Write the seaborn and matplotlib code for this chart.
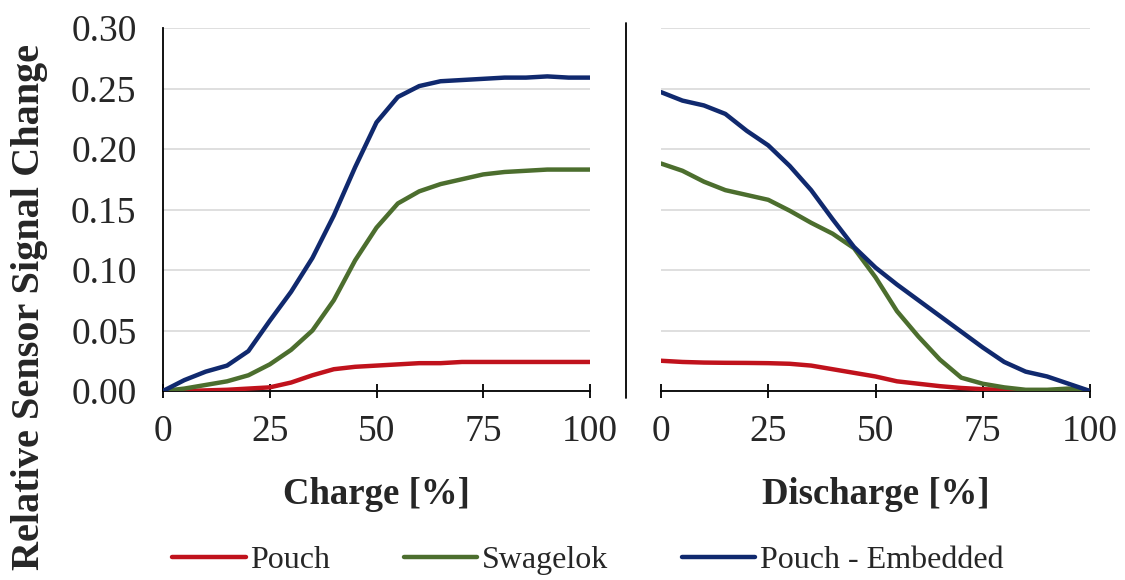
import numpy as np
import pandas as pd
import matplotlib.pyplot as plt
from matplotlib.lines import Line2D
import seaborn as sns

# ── DONNÉES ───────────────────────────────────────────────────────
percent = [0, 5, 10, 15, 20, 25, 30, 35, 40, 45, 50,
           55, 60, 65, 70, 75, 80, 85, 90, 95, 100]

charge_pouch    = [0.000, 0.000, 0.0005, 0.001, 0.002, 0.003, 0.007, 0.013, 0.018, 0.020, 0.021,
                   0.022, 0.023, 0.023, 0.024, 0.024, 0.024, 0.024, 0.024, 0.024, 0.024]
charge_swagelok = [0.000, 0.002, 0.005, 0.008, 0.013, 0.022, 0.034, 0.050, 0.075, 0.108, 0.135,
                   0.155, 0.165, 0.171, 0.175, 0.179, 0.181, 0.182, 0.183, 0.183, 0.183]
charge_embedded = [0.000, 0.009, 0.016, 0.021, 0.033, 0.058, 0.082, 0.110, 0.145, 0.185, 0.222,
                   0.243, 0.252, 0.256, 0.257, 0.258, 0.259, 0.259, 0.260, 0.259, 0.259]

discharge_pouch    = [0.025, 0.024, 0.0235, 0.0233, 0.0232, 0.023, 0.0225, 0.021, 0.018, 0.015, 0.012,
                      0.008, 0.006, 0.004, 0.0025, 0.0015, 0.001, 0.0005, 0.0003, 0.0005, 0.000]
discharge_swagelok = [0.188, 0.182, 0.173, 0.166, 0.162, 0.158, 0.149, 0.139, 0.130, 0.118, 0.094,
                      0.066, 0.045, 0.026, 0.011, 0.006, 0.003, 0.001, 0.001, 0.002, 0.000]
discharge_embedded = [0.247, 0.240, 0.236, 0.229, 0.215, 0.203, 0.186, 0.166, 0.142, 0.119, 0.102,
                      0.088, 0.075, 0.062, 0.049, 0.036, 0.024, 0.016, 0.012, 0.006, 0.000]

SERIES = ['Pouch', 'Swagelok', 'Pouch - Embedded']
COLORS = {'Pouch': '#C0121C', 'Swagelok': '#4C6E2E', 'Pouch - Embedded': '#10296E'}
Y_TICKS = [0.00, 0.05, 0.10, 0.15, 0.20, 0.25, 0.30]
X_TICKS = [0, 25, 50, 75, 100]


def long_df(pouch, swagelok, embedded):
    frames = []
    for name, vals in zip(SERIES, [pouch, swagelok, embedded]):
        frames.append(pd.DataFrame({'x': percent, 'y': vals, 'serie': name}))
    return pd.concat(frames, ignore_index=True)


df_charge = long_df(charge_pouch, charge_swagelok, charge_embedded)
df_discharge = long_df(discharge_pouch, discharge_swagelok, discharge_embedded)

# ── STYLE ─────────────────────────────────────────────────────────
sns.set_style('white')
plt.rcParams['font.family'] = ['Liberation Serif', 'DejaVu Serif']

W, H = 1125, 580
fig = plt.figure(figsize=(W / 100, H / 100), dpi=100)
ax1 = fig.add_axes([163 / W, 1 - 391 / H, 427 / W, 363 / H])
ax2 = fig.add_axes([661 / W, 1 - 391 / H, 429 / W, 363 / H])

for ax, df, xlabel in zip([ax1, ax2], [df_charge, df_discharge],
                          ['Charge [%]', 'Discharge [%]']):
    sns.lineplot(data=df, x='x', y='y', hue='serie', hue_order=SERIES,
                 palette=COLORS, estimator=None, linewidth=3.2, ax=ax, zorder=4)
    ax.set_xlim(0, 100)
    ax.set_ylim(0, 0.30)
    ax.set_xticks(X_TICKS)
    ax.set_yticks(Y_TICKS)
    ax.set_yticklabels([f'{v:.2f}' for v in Y_TICKS])
    ax.grid(axis='y', color='#D9D9D9', linewidth=1.2)
    ax.grid(axis='x', visible=False)
    for side in ['top', 'right', 'left']:
        ax.spines[side].set_visible(False)
    ax.spines['bottom'].set_color('black')
    ax.spines['bottom'].set_linewidth(1.3)
    ax.spines['bottom'].set_zorder(3)
    ax.tick_params(axis='x', direction='inout', length=10, width=1.3,
                   color='black', labelsize=27, pad=12, bottom=True)
    ax.tick_params(axis='y', length=0, labelsize=27, pad=19)
    ax.set_xlabel(xlabel, fontsize=26.5, fontweight='bold')
    ax.xaxis.set_label_coords(0.5, (391 - 495) / 363)
    ax.xaxis.label.set_va('center')
    ax.set_ylabel('')

handles, labels = ax1.get_legend_handles_labels()
for ax in [ax1, ax2]:
    if ax.get_legend() is not None:
        ax.get_legend().remove()

ax1.spines['left'].set_visible(True)
ax1.spines['left'].set_color('black')
ax1.spines['left'].set_linewidth(1.3)
ax2.tick_params(axis='y', labelleft=False)

# trait vertical de séparation
fig.add_artist(Line2D([626 / W, 626 / W], [1 - 398 / H, 1 - 23 / H],
                      color='black', linewidth=1.3))

fig.text(30 / W, 1 - 307 / H, 'Relative Sensor Signal Change', rotation=90,
         ha='center', va='center', fontsize=29, fontweight='bold')

fig.legend(handles, labels, loc='center', bbox_to_anchor=(588 / W, 1 - 560 / H),
           ncol=3, frameon=False, fontsize=23, handlelength=2.3,
           handletextpad=0.15, columnspacing=2.3)

plt.savefig('out.png', dpi=100)
